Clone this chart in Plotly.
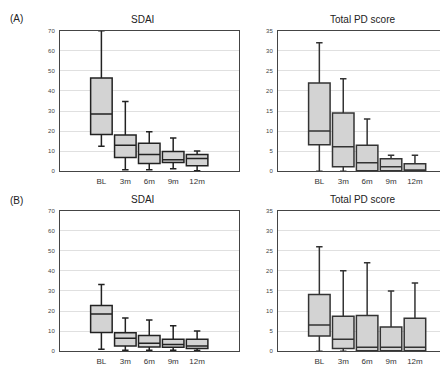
import plotly.graph_objects as go

categories = ["BL", "3m", "6m", "9m", "12m"]
xpos = [1, 2, 3, 4, 5]

# (A) SDAI
a_sdai_low = [12.4, 0.8, 0.8, 1.3, 0.3]
a_sdai_q1 = [18.3, 6.9, 3.9, 4.4, 2.8]
a_sdai_med = [28.5, 12.9, 8.3, 5.7, 6.4]
a_sdai_q3 = [46.4, 18.1, 13.9, 9.9, 8.3]
a_sdai_up = [70, 34.7, 19.7, 16.5, 10.1]

# (A) Total PD score
a_pd_low = [0, 0, 0, 0, 0]
a_pd_q1 = [6.6, 1.1, 0.1, 0.1, 0.05]
a_pd_med = [10, 6.1, 2.1, 1.1, 0.05]
a_pd_q3 = [22, 14.5, 6.5, 3.1, 1.9]
a_pd_up = [32, 23, 13, 4, 4]

# (B) SDAI
b_sdai_low = [1.0, 0.5, 0.5, 0.5, 0.3]
b_sdai_q1 = [9.3, 2.6, 2.1, 2.0, 1.3]
b_sdai_med = [18.5, 6.4, 3.9, 3.3, 2.6]
b_sdai_q3 = [22.7, 9.2, 7.8, 6.0, 6.0]
b_sdai_up = [33.2, 16.5, 15.5, 12.7, 10.0]

# (B) Total PD score
b_pd_low = [0, 0, 0, 0, 0]
b_pd_q1 = [3.8, 0.7, 0.1, 0.1, 0.1]
b_pd_med = [6.5, 3.0, 1.0, 1.0, 1.0]
b_pd_q3 = [14.1, 8.7, 8.9, 6.0, 8.2]
b_pd_up = [26, 20, 22, 15, 17]

sdai_ticks = [0, 10, 20, 30, 40, 50, 60, 70]
pd_ticks = [0, 5, 10, 15, 20, 25, 30, 35]

fig = go.Figure()

panels = [
    ("x", "y", a_sdai_low, a_sdai_q1, a_sdai_med, a_sdai_q3, a_sdai_up, "#222222"),
    ("x2", "y2", a_pd_low, a_pd_q1, a_pd_med, a_pd_q3, a_pd_up, "#333333"),
    ("x3", "y3", b_sdai_low, b_sdai_q1, b_sdai_med, b_sdai_q3, b_sdai_up, "#222222"),
    ("x4", "y4", b_pd_low, b_pd_q1, b_pd_med, b_pd_q3, b_pd_up, "#333333"),
]
for xa, ya, lo, q1, med, q3, up, col in panels:
    fig.add_trace(go.Box(
        x=xpos, lowerfence=lo, q1=q1, median=med, q3=q3, upperfence=up,
        xaxis=xa, yaxis=ya, width=0.9, whiskerwidth=0.3,
        fillcolor="#d3d3d3", line=dict(color=col, width=1.5),
        boxpoints=False, showlegend=False, hoverinfo="skip",
    ))

# the page body adds an 8px offset, so the figure is laid out in shifted coordinates
OFF = 8
W, H = 448 - OFF, 366 - OFF
px_per_unit = 23.9
left_dom = [(60 - OFF) / W, (239 - OFF) / W]
right_end = 0.999
right_dom = [(278 - OFF) / W, right_end]
right_rng_end = -0.73 + (right_end * W - (278 - OFF)) / px_per_unit
top_dom = [(H - (171 - OFF)) / H, (H - (28 - OFF)) / H]
bot_dom = [(H - (354 - OFF)) / H, (H - (211 - OFF)) / H]

tickfont = dict(family="Liberation Sans, Arial", size=6, color="#444444")
xt = dict(family="Liberation Sans, Arial", size=8, color="#333333")

def xax(dom, anchor, rng):
    return dict(domain=dom, anchor=anchor, range=rng, tickvals=xpos, ticktext=categories,
                showgrid=False, zeroline=False, showline=True, mirror=True,
                linecolor="#444444", linewidth=1, ticks="", tickfont=xt, ticklabelstandoff=2)

def yax(dom, anchor, rng, tv, mirror):
    return dict(domain=dom, anchor=anchor, range=rng, tickvals=tv, showgrid=True,
                gridcolor="#e0e0e0", gridwidth=1, zeroline=False, showline=True,
                mirror=mirror, linecolor="#444444", linewidth=1, ticks="",
                tickfont=tickfont, ticklabelstandoff=3)

fig.update_layout(
    width=W, height=H, margin=dict(l=0, r=0, t=0, b=0),
    paper_bgcolor="white", plot_bgcolor="white",
    xaxis=xax(left_dom, "y", [-0.73, 6.75]),
    yaxis=yax(top_dom, "x", [0, 70], sdai_ticks, True),
    xaxis2=xax(right_dom, "y2", [-0.73, right_rng_end]),
    yaxis2=yax(top_dom, "x2", [0, 35], pd_ticks, False),
    xaxis3=xax(left_dom, "y3", [-0.73, 6.75]),
    yaxis3=yax(bot_dom, "x3", [0, 70], sdai_ticks, True),
    xaxis4=xax(right_dom, "y4", [-0.73, right_rng_end]),
    yaxis4=yax(bot_dom, "x4", [0, 35], pd_ticks, False),
)

title_font = dict(family="Liberation Sans, Arial", size=10, color="#222222")
label_font = dict(family="Liberation Sans, Arial", size=10, color="#222222")
annos = [
    dict(text="SDAI", x=(142 - OFF) / W, y=1 - (17 - OFF) / H),
    dict(text="Total PD score", x=(362 - OFF) / W, y=1 - (17 - OFF) / H),
    dict(text="SDAI", x=(142 - OFF) / W, y=1 - (200 - OFF) / H),
    dict(text="Total PD score", x=(362 - OFF) / W, y=1 - (200 - OFF) / H),
]
for a in annos:
    fig.add_annotation(xref="paper", yref="paper", showarrow=False, font=title_font,
                       xanchor="center", yanchor="middle", **a)
fig.add_annotation(text="(A)", xref="paper", yref="paper", x=0, y=1 - (16 - OFF) / H,
                   xanchor="left", yanchor="middle", showarrow=False, font=label_font)
fig.add_annotation(text="(B)", xref="paper", yref="paper", x=0, y=1 - (201 - OFF) / H,
                   xanchor="left", yanchor="middle", showarrow=False, font=label_font)

fig.write_html("out.html")
